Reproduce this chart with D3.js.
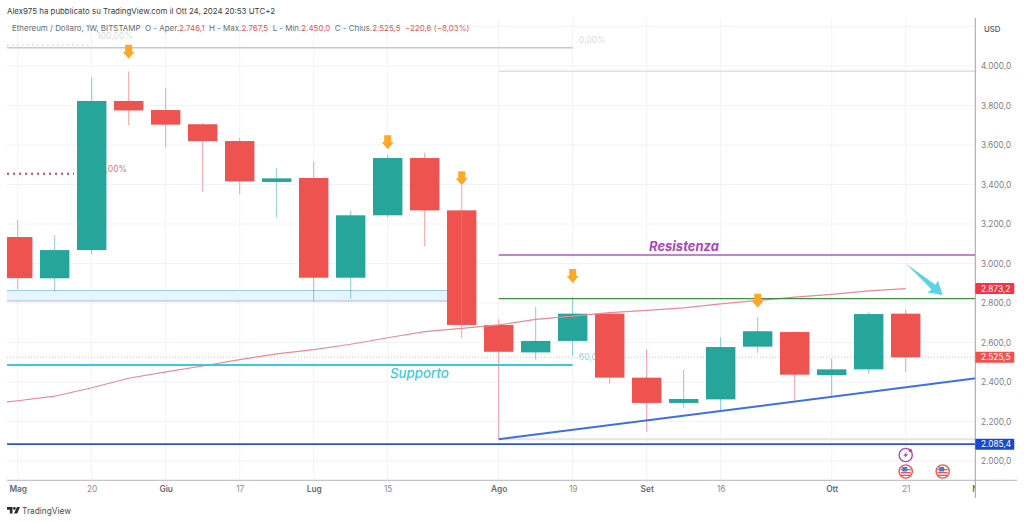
<!DOCTYPE html>
<html>
<head>
<meta charset="utf-8">
<script src="https://d3js.org/d3.v7.min.js"></script>
<style>
	html, body { margin: 0; padding: 0; background: #fff; }
	svg { display: block; font-family: Inter, "Liberation Sans", sans-serif; }
</style>
</head>
<body>
<div id="chart"></div>
<script>
const weeks = ['2024-05-06', '2024-05-13', '2024-05-20', '2024-05-27', '2024-06-03', '2024-06-10', '2024-06-17', '2024-06-24', '2024-07-01', '2024-07-08', '2024-07-15', '2024-07-22', '2024-07-29', '2024-08-05', '2024-08-12', '2024-08-19', '2024-08-26', '2024-09-02', '2024-09-09', '2024-09-16', '2024-09-23', '2024-09-30', '2024-10-07', '2024-10-14', '2024-10-21']
const opens = [3134, 2925, 3068, 3823, 3777, 3705, 3620, 3413, 3433, 2928, 3244, 3534, 3269, 2689, 2550, 2608, 2746, 2422, 2294, 2312, 2579, 2653, 2435, 2464, 2746.1]
const highs = [3220, 3144, 3943, 3973, 3888, 3713, 3637, 3483, 3514, 3267, 3549, 3561, 3397, 2719, 2780, 2830, 2756, 2565, 2462, 2628, 2729, 2658, 2518, 2754, 2767.5]
const lows = [2871, 2861, 3046, 3701, 3588, 3363, 3353, 3232, 2810, 2822, 3232, 3087, 2624, 2110, 2513, 2532, 2391, 2147, 2270, 2258, 2548, 2307, 2329, 2442, 2450]
const closes = [2926, 3068, 3823, 3775, 3703, 3620, 3416, 3431, 2928, 3244, 3534, 3269, 2689, 2553, 2608, 2746, 2422, 2294, 2314, 2577, 2657, 2437, 2464, 2744, 2525.5]

// moving average, one point more on the left than the candles
const maWeeks = ['2024-04-29', ...weeks]
const maValues = [2284, 2305, 2328, 2371, 2419, 2451, 2481, 2513, 2542, 2564, 2591, 2624, 2655, 2672, 2689, 2717, 2734, 2751, 2763, 2775, 2796, 2813, 2830, 2844, 2861, 2873.2]

const priceTicks = [2000, 2200, 2400, 2600, 2800, 3000, 3200, 3400, 3600, 3800, 4000]
const gridPrices = [...priceTicks, 4200]
const timeTicks = ['2024-05-06', '2024-05-20', '2024-06-03', '2024-06-17', '2024-07-01', '2024-07-15', '2024-08-05', '2024-08-19', '2024-09-02', '2024-09-16', '2024-10-07', '2024-10-21', '2024-11-04']
const timeLabels = ['Mag', '20', 'Giu', '17', 'Lug', '15', 'Ago', '19', 'Set', '16', 'Ott', '21', 'Nov']
const monthLabels = ['Mag', 'Giu', 'Lug', 'Ago', 'Set', 'Ott', 'Nov']

const signalWeeks = ['2024-05-27', '2024-07-15', '2024-07-29', '2024-08-19', '2024-09-23']
const signalPrices = [4037, 3578, 3396, 2901, 2776]

const trendWeeks = ['2024-08-05', '2024-11-04']
const trendPrices = [2110, 2421]
const arrowWeeks = ['2024-10-21', '2024-10-28']
const arrowPrices = [3000, 2841]
const flagWeeks = ['2024-10-21', '2024-10-28']

const parseDay = d3.utcParse('%Y-%m-%d')
const formatDay = d3.utcFormat('%Y-%m-%d')
const itLocale = d3.formatLocale({ decimal: ',', thousands: '.', grouping: [3], currency: ['', ''] })
const price = itLocale.format(',.1f')

const red = '#ef5350'
const green = '#26a69a'
const paneLeft = 7
const paneRight = 975.3
const paneTop = 18
const paneBottom = 480.3

const x = d3.scaleUtc()
	.domain([parseDay(weeks[0]), parseDay(weeks[24])])
	.range([17.7, 905.7])
const y = d3.scaleLinear()
	.domain([2000, 4000])
	.range([461, 66])

const xw = d => x(parseDay(d))
const candleWidth = (xw(weeks[1]) - xw(weeks[0])) * 0.795

const svg = d3.select('#chart')
	.append('svg')
		.attr('width', 1024)
		.attr('height', 522)

svg.append('clipPath')
	.attr('id', 'pane')
	.append('rect')
		.attr('x', paneLeft)
		.attr('y', paneTop)
		.attr('width', paneRight - paneLeft)
		.attr('height', paneBottom - paneTop)

svg.append('clipPath')
	.attr('id', 'timeClip')
	.append('rect')
		.attr('x', paneLeft)
		.attr('y', paneBottom)
		.attr('width', paneRight - paneLeft)
		.attr('height', 30)

const pane = svg.append('g').attr('clip-path', 'url(#pane)')

// grid
pane.selectAll('line.hgrid')
	.data(gridPrices)
	.enter()
	.append('line')
		.attr('class', 'hgrid')
		.attr('x1', paneLeft)
		.attr('x2', paneRight)
		.attr('y1', d => y(d))
		.attr('y2', d => y(d))
		.style('stroke', '#f0f3fa')

pane.selectAll('line.vgrid')
	.data(timeTicks)
	.enter()
	.append('line')
		.attr('class', 'vgrid')
		.attr('x1', d => xw(d))
		.attr('x2', d => xw(d))
		.attr('y1', paneTop)
		.attr('y2', paneBottom)
		.style('stroke', '#f0f3fa')

const hLine = (from, to, value, color, width, dash) => pane.append('line')
	.attr('x1', from)
	.attr('x2', to)
	.attr('y1', y(value))
	.attr('y2', y(value))
	.style('stroke', color)
	.style('stroke-width', width)
	.style('stroke-dasharray', dash || null)

const label = (xPos, value, text, color, size, anchor) => pane.append('text')
	.attr('x', xPos)
	.attr('y', y(value))
	.attr('dy', '0.35em')
	.attr('text-anchor', anchor || 'start')
	.style('font-size', `${size}px`)
	.style('fill', color)
	.text(text)

const aug5 = xw('2024-08-05')
const aug19 = xw('2024-08-19')

// fibonacci leftovers and zone
pane.append('rect')
	.attr('x', paneLeft)
	.attr('width', xw('2024-07-29') - paneLeft)
	.attr('y', y(2863))
	.attr('height', y(2810) - y(2863))
	.style('fill', '#e6f5fb')
hLine(paneLeft, xw('2024-07-29'), 2863, '#93cfe2', 1)
hLine(paneLeft, xw('2024-07-29'), 2810, '#b3b3de', 1)

hLine(paneLeft, 90, 4106, '#c4c4c4', 1, '1.5 3.5')
hLine(paneLeft, aug19, 4093, '#c9c9c9', 1.5)
hLine(aug5, paneRight, 3974, '#cfcfcf', 1)
hLine(aug5, paneRight, 2110, '#e4e4e4', 2)
hLine(paneLeft, 74, 3455, '#d9423f', 2, '2 4')
label(115, 4150, '100,00%', '#dcdcdc', 8.6, 'middle')
label(578.7, 4133, '0,00%', '#dcdcdc', 8.6)
label(127, 3478, '50,00%', '#e57373', 8.6, 'end')
label(578.7, 2525, '60,00%', '#8fd6e2', 8.6)

hLine(paneLeft, paneRight, 2525.5, '#f7b5b5', 1, '1 2')

// candles
const candles = weeks.map((week, i) => ({
	week: week,
	open: opens[i],
	high: highs[i],
	low: lows[i],
	close: closes[i]
}))

const candleG = pane.selectAll('g.candle')
	.data(candles)
	.enter()
	.append('g')
		.attr('class', 'candle')

candleG.append('line')
	.attr('x1', d => xw(d.week))
	.attr('x2', d => xw(d.week))
	.attr('y1', d => y(d.high))
	.attr('y2', d => y(d.low))
	.style('stroke', d => d.close >= d.open ? green : red)
	.style('stroke-opacity', 0.55)

candleG.append('rect')
	.attr('x', d => xw(d.week) - candleWidth / 2)
	.attr('width', candleWidth)
	.attr('y', d => y(Math.max(d.open, d.close)))
	.attr('height', d => Math.max(y(Math.min(d.open, d.close)) - y(Math.max(d.open, d.close)), 1))
	.style('fill', d => d.close >= d.open ? green : red)

// the wicks show through the last big candle
pane.append('line')
	.attr('x1', xw('2024-07-29'))
	.attr('x2', xw('2024-07-29'))
	.attr('y1', y(3269))
	.attr('y2', y(2689))
	.style('stroke', '#e08a88')
	.style('stroke-opacity', 0.5)

// moving average
const maLine = d3.line()
	.x((d, i) => xw(maWeeks[i]))
	.y(d => y(d))

pane.append('path')
	.attr('d', maLine(maValues))
	.style('fill', 'none')
	.style('stroke', '#e98a94')
	.style('stroke-width', 1.2)

// drawings
hLine(aug5, paneRight, 3043, '#b356c4', 1.6)
hLine(aug5, paneRight, 2822, '#3f8f3f', 1.4)
hLine(paneLeft, aug19, 2486, '#3fc8dc', 2.2)
hLine(paneLeft, paneRight, 2085.4, '#2a55cf', 1.6)

const trendLine = d3.line()
	.x((d, i) => xw(trendWeeks[i]))
	.y(d => y(d))

pane.append('path')
	.attr('d', trendLine(trendPrices))
	.style('fill', 'none')
	.style('stroke', '#3b70e0')
	.style('stroke-width', 2)

pane.append('text')
	.attr('x', 649)
	.attr('y', y(3043) - 4.5)
	.style('font-size', '13px')
	.style('font-weight', 700)
	.style('font-style', 'italic')
	.style('fill', '#ab47bc')
	.text('Resistenza')

pane.append('text')
	.attr('x', 390)
	.attr('y', y(2486) + 13)
	.style('font-size', '13.3px')
	.style('font-weight', 500)
	.style('font-style', 'italic')
	.style('fill', '#3fc8dc')
	.text('Supporto')

// sketched arrow, thin tail and wide head
const ax0 = xw(arrowWeeks[0])
const ay0 = y(arrowPrices[0])
const ax1 = xw(arrowWeeks[1])
const ay1 = y(arrowPrices[1])
const alen = Math.hypot(ax1 - ax0, ay1 - ay0)
const ux = (ax1 - ax0) / alen
const uy = (ay1 - ay0) / alen
const along = (dist, side) => [ax0 + ux * dist - uy * side, ay0 + uy * dist + ux * side]

pane.append('path')
	.attr('d', d3.line()([
		along(0, 0),
		along(alen - 12, 3),
		along(alen - 13, 8),
		along(alen, 0),
		along(alen - 13, -8),
		along(alen - 12, -3)
	]) + 'Z')
	.style('fill', '#5fd3e6')

// orange signal arrows
pane.selectAll('path.signal')
	.data(signalWeeks)
	.enter()
	.append('path')
		.attr('class', 'signal')
		.attr('transform', (d, i) => `translate(${xw(d)}, ${y(signalPrices[i])})`)
		.attr('d', 'M0,0 L-6,-7 L-3.5,-7 L-3.5,-14 L3.5,-14 L3.5,-7 L6,-7 Z')
		.style('fill', '#ffa726')

// event icons
const flagY = 471.5
const flags = svg.selectAll('g.flag')
	.data(flagWeeks)
	.enter()
	.append('g')
		.attr('class', 'flag')
		.attr('transform', d => `translate(${xw(d)}, ${flagY})`)

flags.append('circle')
	.attr('r', 6.6)
	.style('fill', '#fff')
	.style('stroke', '#ef5350')
	.style('stroke-width', 1.4)

flags.selectAll('rect.stripe')
	.data([-2.5, 0.5, 3.2])
	.enter()
	.append('rect')
		.attr('class', 'stripe')
		.attr('x', -5)
		.attr('width', 10)
		.attr('y', d => d)
		.attr('height', 1.3)
		.style('fill', '#ef5350')

flags.append('rect')
	.attr('x', -3.5)
	.attr('y', -4.5)
	.attr('width', 5)
	.attr('height', 4.5)
	.style('fill', '#3d7fe0')

const bolt = svg.append('g')
	.attr('transform', `translate(${xw('2024-10-21')}, 455)`)

bolt.append('circle')
	.attr('r', 6.6)
	.style('fill', '#fff')
	.style('stroke', '#a04fc8')
	.style('stroke-width', 1.4)

bolt.append('path')
	.attr('d', 'M1.5,-3.5 L-2.5,0.8 L-0.3,0.8 L-1.5,3.5 L2.5,-0.8 L0.3,-0.8 Z')
	.style('fill', '#a04fc8')

bolt.append('circle')
	.attr('cx', 4.6)
	.attr('cy', -4.6)
	.attr('r', 1.7)
	.style('fill', '#f23645')

// axes
const yAxis = d3.axisRight(y)
	.tickValues(priceTicks)
	.tickSize(0)
	.tickPadding(5.7)
	.tickFormat(price)

const yAxisG = svg.append('g')
	.attr('transform', `translate(${paneRight}, 0)`)
	.call(yAxis)

yAxisG.select('.domain').remove()
yAxisG.selectAll('text')
	.style('font-family', 'Inter, sans-serif')
	.style('font-size', '8.3px')
	.style('fill', '#7c7f88')

const xAxis = d3.axisBottom(x)
	.tickValues(timeTicks.map(parseDay))
	.tickSize(0)
	.tickPadding(6)
	.tickFormat(d => timeLabels[timeTicks.indexOf(formatDay(d))])

const xAxisG = svg.append('g')
	.attr('clip-path', 'url(#timeClip)')
	.append('g')
		.attr('transform', `translate(0, ${paneBottom})`)
		.call(xAxis)

const isMonth = d => monthLabels.includes(timeLabels[timeTicks.indexOf(formatDay(d))])

xAxisG.select('.domain').remove()
xAxisG.selectAll('text')
	.style('font-family', 'Inter, sans-serif')
	.style('font-size', '8.3px')
	.style('font-weight', d => isMonth(d) ? 600 : 400)
	.style('fill', d => isMonth(d) ? '#666a72' : '#8a8d96')

svg.append('line')
	.attr('x1', paneLeft)
	.attr('x2', 1017)
	.attr('y1', paneBottom)
	.attr('y2', paneBottom)
	.style('stroke', '#b4b6bc')

svg.append('line')
	.attr('x1', paneRight)
	.attr('x2', paneRight)
	.attr('y1', paneTop)
	.attr('y2', 498)
	.style('stroke', '#a0a2a8')

svg.append('text')
	.attr('x', 984)
	.attr('y', 32)
	.style('font-size', '7.8px')
	.style('font-weight', 500)
	.style('fill', '#555')
	.text('USD')

// price tags on the axis
const tagValues = [2873.2, 2525.5, 2085.4]
const tagColors = ['#f23645', '#ef5350', '#1848cc']

const tags = svg.selectAll('g.tag')
	.data(tagValues)
	.enter()
	.append('g')
		.attr('class', 'tag')
		.attr('transform', d => `translate(${paneRight}, ${y(d)})`)

tags.append('rect')
	.attr('y', -5.5)
	.attr('width', 39)
	.attr('height', 11)
	.attr('rx', 1)
	.style('fill', (d, i) => tagColors[i])

tags.append('text')
	.attr('x', 5.7)
	.attr('dy', '0.36em')
	.style('font-size', '8.3px')
	.style('fill', '#fff')
	.text(d => price(d))

// header
svg.append('text')
	.attr('x', 7)
	.attr('y', 13.5)
	.style('font-size', '7.9px')
	.style('fill', '#3a3c42')
	.text('Alex975 ha pubblicato su TradingView.com il Ott 24, 2024 20:53 UTC+2')

const legendParts = [
	['Ethereum / Dollaro, 1W, BITSTAMP\u00a0\u00a0O - Aper.', '#6a6d75'],
	['2.746,1', red],
	['\u00a0\u00a0H - Max.', '#6a6d75'],
	['2.767,5', red],
	['\u00a0\u00a0L - Min.', '#6a6d75'],
	['2.450,0', red],
	['\u00a0\u00a0C - Chius.', '#6a6d75'],
	['2.525,5', red],
	['\u00a0\u00a0\u2212220,6 (\u22128,03%)', red]
]

svg.append('text')
	.attr('x', 12)
	.attr('y', 31)
	.style('font-size', '7.95px')
	.selectAll('tspan')
	.data(legendParts)
	.enter()
	.append('tspan')
		.style('fill', d => d[1])
		.text(d => d[0])

// footer logo
const logo = svg.append('g')
	.attr('transform', 'translate(7, 507)')
	.style('fill', '#2a2c30')

logo.append('path')
	.attr('d', 'M0,0 H5.5 V6.5 H2.8 V2.8 H0 Z')
logo.append('circle')
	.attr('cx', 7.4)
	.attr('cy', 1.4)
	.attr('r', 1.4)
logo.append('path')
	.attr('d', 'M10,0 H13 L10.2,6.5 H7 Z')

svg.append('text')
	.attr('x', 22)
	.attr('y', 514)
	.style('font-size', '8.3px')
	.style('fill', '#4a4c52')
	.text('TradingView')
</script>
</body>
</html>
